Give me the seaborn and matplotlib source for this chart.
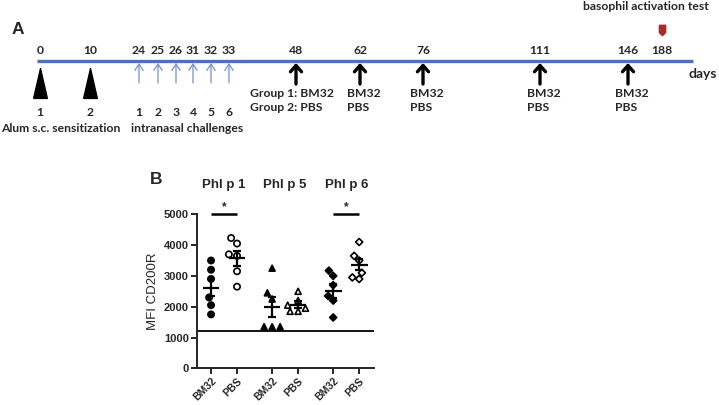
import numpy as np
import pandas as pd
import matplotlib
matplotlib.use("Agg")
import matplotlib.pyplot as plt
import seaborn as sns
from matplotlib.path import Path

# ==========================================
# DATA
# ==========================================
# Panel A - timeline (days of the protocol)
DAYS = [0, 10, 24, 25, 26, 31, 32, 33, 48, 62, 76, 111, 146, 188]
SENS_IDX = [0, 1]                     # s.c. sensitizations
CHALL_IDX = [2, 3, 4, 5, 6, 7]        # intranasal challenges
TREAT_IDX = [8, 9, 10, 11, 12]        # BM32 / PBS treatments
BAT_IDX = 13                          # basophil activation test
TREAT_TEXT = ["Group 1: BM32\nGroup 2: PBS", "BM32\nPBS", "BM32\nPBS",
              "BM32\nPBS", "BM32\nPBS"]

# Panel B - MFI CD200R per antigen / treatment
ANTIGENS = ["Phl p 1", "Phl p 5", "Phl p 6"]
TREATMENTS = ["BM32", "PBS"]
phl1_bm32 = [3500, 3200, 2900, 2300, 2050, 1750]
phl1_pbs = [4230, 4050, 3700, 3650, 3150, 2650]
phl5_bm32 = [3250, 2450, 2250, 1350, 1350, 1350]
phl5_pbs = [2500, 2200, 2050, 1950, 1850, 1850]
phl6_bm32 = [3170, 3000, 2700, 2350, 2200, 1650]
phl6_pbs = [4100, 3650, 3500, 3100, 2950, 2900]
BASELINE = 1200
SIGNIFICANT = ["Phl p 1", "Phl p 6"]

# ==========================================
# LAYOUT
# ==========================================
# timeline is not to scale in the original: x position (px) for each day
DAY_X = [40, 90, 139, 158, 176, 193, 211, 229, 296, 360, 423, 540, 628, 662]
TREAT_DX = [-4, 4, 4, 4, 4]
LINE_Y = 60.5
GROUP_POS = [0, 2.35, 4.7]
BLUE = "#4f6fbf"
LIGHT_BLUE = "#7390d2"
DARK_RED = "#a32c2c"

sns.set_style("ticks")
plt.rcParams["font.family"] = ["Liberation Sans", "DejaVu Sans"]
plt.rcParams["font.weight"] = "bold"

fig = plt.figure(figsize=(7.19, 4.05), dpi=100)

# ---------- Panel A ----------
ax_a = fig.add_axes([0, 0, 1, 1])
ax_a.set_xlim(0, 719)
ax_a.set_ylim(405, 0)
ax_a.axis("off")
tl_font = dict(family=["Lato", "DejaVu Sans"], fontweight="bold", fontsize=8.7)

ax_a.plot([37, 693], [LINE_Y, LINE_Y], color=BLUE, lw=2.4, solid_capstyle="butt")
for d, x in zip(DAYS, DAY_X):
    ax_a.text(x, 50, str(d), ha="center", va="center", **tl_font)

# sensitization triangles
tri = Path([(-0.23, -0.5), (0.23, -0.5), (0, 0.5), (-0.23, -0.5)])
for n, i in enumerate(SENS_IDX):
    ax_a.plot(DAY_X[i], 83, marker=tri, markersize=21.5, color="black", lw=0)
    ax_a.text(DAY_X[i], 112, str(n + 1), ha="center", va="center", **tl_font)
ax_a.text(61, 128, "Alum s.c. sensitization", ha="center", va="center", **tl_font)

# intranasal challenges
for n, i in enumerate(CHALL_IDX):
    ax_a.annotate("", xy=(DAY_X[i], 63), xytext=(DAY_X[i], 83),
                  arrowprops=dict(arrowstyle="->,head_width=0.3,head_length=0.45",
                                  color=LIGHT_BLUE, lw=0.9, shrinkA=0, shrinkB=0))
    ax_a.text(DAY_X[i], 112, str(n + 1), ha="center", va="center", **tl_font)
ax_a.text(187, 128, "intranasal challenges", ha="center", va="center", **tl_font)

# treatments
for i, txt, dx in zip(TREAT_IDX, TREAT_TEXT, TREAT_DX):
    ax_a.annotate("", xy=(DAY_X[i], 63), xytext=(DAY_X[i], 84),
                  arrowprops=dict(arrowstyle="->,head_width=0.4,head_length=0.45",
                                  color="black", lw=2.4, shrinkA=0, shrinkB=0))
    ax_a.text(DAY_X[i] + dx, 88, txt, ha="center", va="top", multialignment="left",
              linespacing=1.3, **tl_font)

# basophil activation test
pent = Path([(-0.3, 0.5), (0.3, 0.5), (0.3, -0.2), (0, -0.5), (-0.3, -0.2), (-0.3, 0.5)])
ax_a.plot(DAY_X[BAT_IDX], 30, marker=pent, markersize=7.5, color=DARK_RED, lw=0)
ax_a.text(646, 6.5, "basophil activation test", ha="center", va="center", **tl_font)
ax_a.text(703, 74, "days", ha="center", va="center",
          family=["Lato", "DejaVu Sans"], fontweight="bold", fontsize=10)

ax_a.text(18, 30, "A", ha="center", va="center", fontsize=12.5, fontweight="bold")
ax_a.text(156, 179, "B", ha="center", va="center", fontsize=12.5, fontweight="bold")

# ---------- Panel B ----------
values = [[phl1_bm32, phl1_pbs], [phl5_bm32, phl5_pbs], [phl6_bm32, phl6_pbs]]
rows = []
for a, g, pair in zip(ANTIGENS, GROUP_POS, values):
    for k, (t, v) in enumerate(zip(TREATMENTS, pair)):
        for val in v:
            rows.append({"Antigen": a, "Treatment": t, "Pos": g + k, "MFI": val})
df = pd.DataFrame(rows)

ax_b = fig.add_axes([197 / 719, 1 - 368.3 / 405, 177 / 719, 154 / 405])
ax_b.patch.set_alpha(0)

markers = ["o", "^", "D"]
sizes = [4.5, 4.3, 3.6]
for a, m, s in zip(ANTIGENS, markers, sizes):
    sns.swarmplot(data=df[df["Antigen"] == a], x="Pos", y="MFI", hue="Treatment",
                  palette={"BM32": "black", "PBS": "white"}, marker=m, size=s,
                  edgecolor="black", linewidth=1.2, native_scale=True, orient="x",
                  legend=False, ax=ax_b, zorder=3)

# mean +/- SEM
stats = df.groupby(["Antigen", "Treatment"])["MFI"].agg(["mean", "sem"]).reset_index()
for _, r in stats.iterrows():
    x = GROUP_POS[ANTIGENS.index(r["Antigen"])] + TREATMENTS.index(r["Treatment"])
    ax_b.hlines(r["mean"], x - 0.32, x + 0.32, color="black", lw=1.6, zorder=4)
    ax_b.errorbar(x, r["mean"], yerr=r["sem"], color="black", lw=1.6,
                  capsize=3.2, capthick=1.6, zorder=4)

ax_b.axhline(BASELINE, color="black", lw=1.3, zorder=2)

for a, g in zip(ANTIGENS, GROUP_POS):
    ax_b.text(g + 0.5, 5950, a, ha="center", va="center", fontsize=9.5,
              fontweight="bold", clip_on=False)
    if a in SIGNIFICANT:
        ax_b.plot([g, g + 1], [5000, 5000], color="black", lw=1.8, clip_on=False,
                  solid_capstyle="butt")
        ax_b.text(g + 0.5, 5030, "*", ha="center", va="bottom", fontsize=8.5,
                  fontweight="bold")

ax_b.set_xlim(-0.54, 6.27)
ax_b.set_ylim(0, 5000)
ax_b.set_yticks([0, 1000, 2000, 3000, 4000, 5000])
ax_b.set_xticks([g + k for g in GROUP_POS for k in range(2)])
ax_b.set_xticklabels(TREATMENTS * 3, rotation=45, ha="right",
                     rotation_mode="anchor", fontweight="bold", fontsize=7.5)
ax_b.set_yticklabels(["0", "1000", "2000", "3000", "4000", "5000"],
                     fontweight="bold", fontsize=8)
ax_b.tick_params(direction="out", length=4, width=1.4, pad=2)
ax_b.tick_params(axis="x", pad=1.5)
ax_b.set_xlabel("")
ax_b.set_ylabel("MFI CD200R", fontsize=9.5, fontweight="normal", labelpad=3)
for sp in ["top", "right"]:
    ax_b.spines[sp].set_visible(False)
for sp in ["left", "bottom"]:
    ax_b.spines[sp].set_linewidth(1.4)

fig.savefig("out.png", dpi=100)
